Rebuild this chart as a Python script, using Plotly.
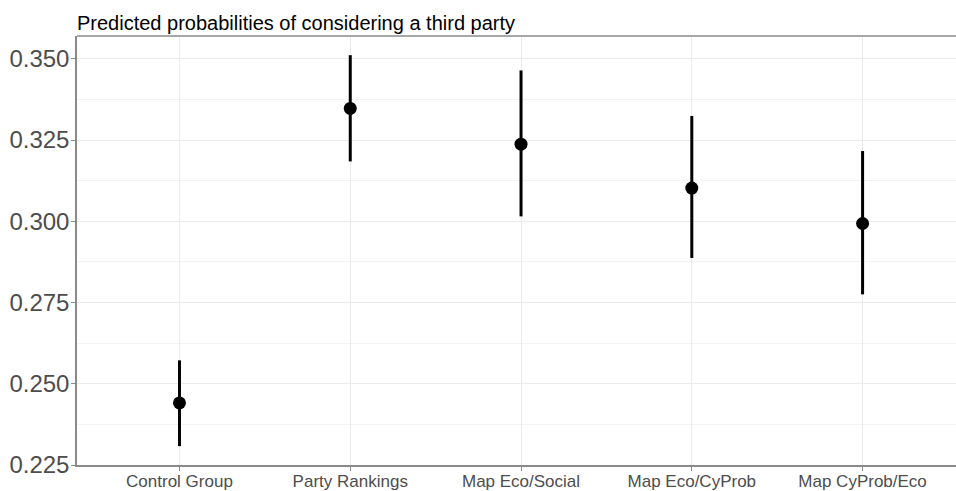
import plotly.graph_objects as go

categories = ["Control Group", "Party Rankings", "Map Eco/Social", "Map Eco/CyProb", "Map CyProb/Eco"]
estimate = [0.2441, 0.3347, 0.3237, 0.3102, 0.2993]
ci_low = [0.2308, 0.3184, 0.3015, 0.2887, 0.2775]
ci_high = [0.2572, 0.3511, 0.3464, 0.3324, 0.3216]
y_ticks = [0.225, 0.250, 0.275, 0.300, 0.325, 0.350]
title_text = "Predicted probabilities of considering a third party"

x_idx = list(range(len(categories)))
err_plus = [h - e for h, e in zip(ci_high, estimate)]
err_minus = [e - l for e, l in zip(estimate, ci_low)]

fig = go.Figure()
fig.add_trace(go.Scatter(
    x=x_idx, y=estimate, mode="markers",
    marker=dict(color="black", size=13),
    error_y=dict(type="data", array=err_plus, arrayminus=err_minus,
                 color="black", thickness=3, width=0, symmetric=False),
    showlegend=False,
))

grid = "#ebebeb"
axis_line = "#8a8a8a"
fig.update_layout(
    width=956, height=491,
    margin=dict(l=77, r=0, t=36, b=26, autoexpand=False),
    plot_bgcolor="white", paper_bgcolor="white",
    font=dict(family="Liberation Sans, Arial, sans-serif", color="#4d4d4d"),
    title=dict(text=title_text, x=77/956, xanchor="left", xref="container",
               y=1, yref="paper", yanchor="bottom", pad=dict(b=6, l=0),
               automargin=False,
               font=dict(size=20, color="black")),
    xaxis=dict(
        range=[-0.6, 4.547], tickmode="array", tickvals=x_idx, ticktext=categories,
        automargin=False,
        showgrid=True, gridcolor=grid, gridwidth=1,
        showline=True, linecolor=axis_line, linewidth=1.5, mirror=False,
        ticks="outside", ticklen=4, tickcolor=axis_line,
        ticklabelstandoff=-4,
        tickfont=dict(size=17, color="#4d4d4d"), zeroline=False,
    ),
    yaxis=dict(
        range=[0.225, 0.357], tickmode="array", tickvals=y_ticks,
        ticktext=[f"{v:.3f}" for v in y_ticks],
        automargin=False,
        showgrid=True, gridcolor=grid, gridwidth=1,
        minor=dict(tickvals=[0.2375, 0.2625, 0.2875, 0.3125, 0.3375],
                   showgrid=True, gridcolor="#f3f3f3", gridwidth=1),
        showline=True, linecolor=axis_line, linewidth=1.5,
        ticks="outside", ticklen=4, tickcolor=axis_line,
        ticklabelstandoff=-3,
        tickfont=dict(size=24, color="#4d4d4d"), zeroline=False,
    ),
)
# top border of the panel
fig.add_shape(type="line", xref="paper", yref="paper", x0=0, x1=1, y0=1, y1=1,
              line=dict(color=axis_line, width=1.5))

fig.write_html("out.html", config={"displayModeBar": False})

# remove the browser's default page margin so the figure sits at (0, 0)
with open("out.html", "r", encoding="utf-8") as f:
    html = f.read()
html = html.replace("<head>", "<head><style>html,body{margin:0;padding:0;overflow:hidden}</style>", 1)
with open("out.html", "w", encoding="utf-8") as f:
    f.write(html)
